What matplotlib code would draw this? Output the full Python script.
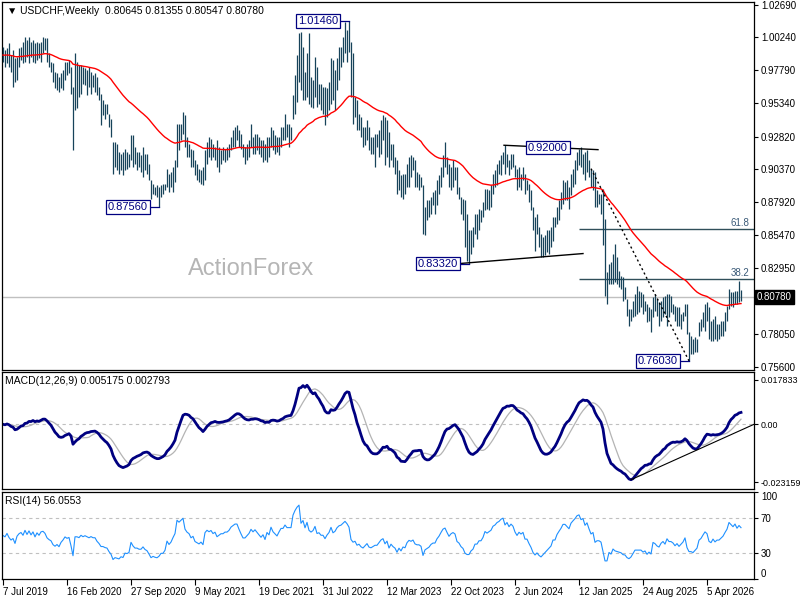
import numpy as np
import pandas as pd
import matplotlib.pyplot as plt
from matplotlib.transforms import blended_transform_factory

plt.rcParams['font.family'] = ['Liberation Sans', 'DejaVu Sans']

# weekly USDCHF bars
high = [
    0.9954, 0.9929, 0.9942, 0.9979, 0.9892, 0.9929, 0.9867, 0.9879, 0.9942, 0.9954,
    0.9992, 1.0029, 1.0004, 1.0029, 0.9992, 1.0004, 0.9979, 0.9992, 0.9979, 0.9992,
    1.0029, 1.0017, 1.0017, 0.9904, 0.9842, 0.9829, 0.9767, 0.9754, 0.9729, 0.9754,
    0.9779, 0.9842, 0.9842, 0.9854, 0.9804, 0.9654, 0.9904, 0.9842, 0.9817, 0.9817,
    0.9804, 0.9792, 0.9779, 0.9804, 0.9767, 0.9742, 0.9754, 0.9729, 0.9654, 0.9604,
    0.9554, 0.9529, 0.9529, 0.9454, 0.9417, 0.9242, 0.9242, 0.9229, 0.9167, 0.9154,
    0.9167, 0.9192, 0.9167, 0.9154, 0.9292, 0.9292, 0.9204, 0.9167, 0.9167, 0.9142,
    0.9204, 0.9154, 0.9154, 0.9079, 0.8954, 0.8929, 0.8904, 0.8917, 0.8904, 0.8917,
    0.8929, 0.8929, 0.9042, 0.9004, 0.9017, 0.9054, 0.9104, 0.9379, 0.9379, 0.9379,
    0.9467, 0.9442, 0.9279, 0.9229, 0.9192, 0.9179, 0.9104, 0.9079, 0.9042, 0.9029,
    0.9054, 0.9179, 0.9242, 0.9279, 0.9267, 0.9229, 0.9204, 0.9254, 0.9204, 0.9179,
    0.9204, 0.9192, 0.9204, 0.9229, 0.9279, 0.9329, 0.9354, 0.9367, 0.9329, 0.9304,
    0.9229, 0.9204, 0.9229, 0.9254, 0.9379, 0.9279, 0.9304, 0.9304, 0.9279, 0.9254,
    0.9254, 0.9229, 0.9279, 0.9279, 0.9354, 0.9329, 0.9292, 0.9279, 0.9279, 0.9354,
    0.9354, 0.9454, 0.9379, 0.9379, 0.9354, 0.9592, 0.9742, 0.9892, 1.0054, 1.0067,
    0.9954, 0.9767, 0.9904, 1.0054, 0.9729, 0.9704, 0.9879, 0.9804, 0.9679, 0.9679,
    0.9654, 0.9654, 0.9642, 0.9692, 0.9867, 0.9854, 0.9779, 0.9867, 0.9954, 0.9954,
    1.0029, 1.0142, 1.0079, 1.0146, 0.9992, 0.9904, 0.9579, 0.9554, 0.9454, 0.9429,
    0.9354, 0.9354, 0.9404, 0.9354, 0.9279, 0.9279, 0.9304, 0.9304, 0.9329, 0.9404,
    0.9442, 0.9429, 0.9404, 0.9317, 0.9229, 0.9229, 0.9129, 0.9104, 0.9029, 0.8992,
    0.9004, 0.9004, 0.9079, 0.9129, 0.9142, 0.9129, 0.9104, 0.9017, 0.9004, 0.8979,
    0.8917, 0.8754, 0.8804, 0.8804, 0.8829, 0.8867, 0.8879, 0.8954, 0.8992, 0.9054,
    0.9142, 0.9242, 0.9129, 0.9079, 0.9054, 0.9104, 0.9054, 0.9054, 0.8904, 0.8829,
    0.8817, 0.8804, 0.8704, 0.8579, 0.8579, 0.8604, 0.8704, 0.8704, 0.8742, 0.8729,
    0.8792, 0.8892, 0.8892, 0.8879, 0.8917, 0.9004, 0.9029, 0.9079, 0.9104, 0.9142,
    0.9167, 0.9217, 0.9154, 0.9104, 0.9154, 0.9154, 0.9067, 0.9042, 0.9054, 0.9004,
    0.9054, 0.9004, 0.8954, 0.8929, 0.8879, 0.8754, 0.8679, 0.8704, 0.8604, 0.8554,
    0.8529, 0.8542, 0.8579, 0.8579, 0.8604, 0.8679, 0.8679, 0.8754, 0.8804, 0.8867,
    0.8954, 0.8942, 0.8954, 0.8904, 0.9004, 0.9042, 0.9104, 0.9167, 0.9192, 0.9204,
    0.9154, 0.9167, 0.9179, 0.9104, 0.9042, 0.9029, 0.9017, 0.8879, 0.8854, 0.8854,
    0.8892, 0.8667, 0.8267, 0.8329, 0.8342, 0.8404, 0.8479, 0.8379, 0.8279, 0.8242,
    0.8229, 0.8154, 0.8067, 0.7992, 0.7992, 0.8054, 0.8104, 0.8167, 0.8129, 0.8117,
    0.8104, 0.8054, 0.8029, 0.8004, 0.7992, 0.8079, 0.8104, 0.8067, 0.8042, 0.8054,
    0.8079, 0.8092, 0.8104, 0.8104, 0.8092, 0.8029, 0.8017, 0.8004, 0.8004, 0.7954,
    0.7967, 0.8029, 0.8029, 0.7817, 0.7792, 0.7767, 0.7779, 0.7767, 0.7892, 0.7917,
    0.7967, 0.8029, 0.8042, 0.8004, 0.7904, 0.7917, 0.7942, 0.7879, 0.7879, 0.7904,
    0.7904, 0.7967, 0.8017, 0.8142, 0.8117, 0.8117, 0.8129, 0.8129, 0.8204, 0.81355,
]
low = [
    0.9842, 0.9804, 0.9829, 0.9804, 0.9767, 0.9654, 0.9692, 0.9704, 0.9804, 0.9854,
    0.9829, 0.9842, 0.9879, 0.9829, 0.9879, 0.9842, 0.9829, 0.9854, 0.9867, 0.9842,
    0.9904, 0.9929, 0.9842, 0.9804, 0.9767, 0.9692, 0.9642, 0.9629, 0.9617, 0.9642,
    0.9629, 0.9704, 0.9742, 0.9754, 0.9604, 0.9179, 0.9479, 0.9492, 0.9579, 0.9604,
    0.9679, 0.9667, 0.9592, 0.9654, 0.9604, 0.9654, 0.9617, 0.9592, 0.9554, 0.9367,
    0.9442, 0.9417, 0.9454, 0.9354, 0.9279, 0.9004, 0.9054, 0.9029, 0.9004, 0.9029,
    0.8992, 0.9029, 0.9042, 0.9054, 0.9104, 0.9054, 0.9079, 0.9029, 0.9054, 0.9017,
    0.8979, 0.9029, 0.9004, 0.8954, 0.8817, 0.8854, 0.8842, 0.8829, 0.8756, 0.8829,
    0.8854, 0.8879, 0.8904, 0.8867, 0.8904, 0.8867, 0.8942, 0.9054, 0.9179, 0.9254,
    0.9304, 0.9204, 0.9129, 0.9129, 0.9054, 0.9054, 0.8992, 0.8954, 0.8942, 0.8929,
    0.8917, 0.8954, 0.9079, 0.9129, 0.9104, 0.9129, 0.9104, 0.9054, 0.9017, 0.9079,
    0.9104, 0.9092, 0.9104, 0.9129, 0.9179, 0.9204, 0.9204, 0.9254, 0.9204, 0.9192,
    0.9129, 0.9079, 0.9104, 0.9129, 0.9204, 0.9154, 0.9154, 0.9179, 0.9154, 0.9129,
    0.9092, 0.9104, 0.9092, 0.9129, 0.9204, 0.9179, 0.9154, 0.9167, 0.9142, 0.9204,
    0.9254, 0.9254, 0.9279, 0.9204, 0.9254, 0.9417, 0.9454, 0.9542, 0.9692, 0.9629,
    0.9554, 0.9554, 0.9579, 0.9529, 0.9504, 0.9492, 0.9579, 0.9504, 0.9529, 0.9479,
    0.9454, 0.9367, 0.9429, 0.9479, 0.9529, 0.9554, 0.9479, 0.9629, 0.9704, 0.9804,
    0.9842, 0.9904, 0.9842, 0.9917, 0.9579, 0.9379, 0.9429, 0.9329, 0.9329, 0.9279,
    0.9204, 0.9217, 0.9254, 0.9179, 0.9154, 0.9154, 0.9054, 0.9204, 0.9129, 0.9154,
    0.9254, 0.9067, 0.9129, 0.9054, 0.9104, 0.9054, 0.9004, 0.8854, 0.8879, 0.8829,
    0.8817, 0.8854, 0.8904, 0.8904, 0.8979, 0.9029, 0.8904, 0.8904, 0.8879, 0.8904,
    0.8554, 0.8542, 0.8654, 0.8679, 0.8704, 0.8767, 0.8704, 0.8767, 0.8854, 0.8904,
    0.8979, 0.9054, 0.9004, 0.8904, 0.8879, 0.8904, 0.8954, 0.8854, 0.8817, 0.8704,
    0.8654, 0.8454, 0.8354, 0.8332, 0.8404, 0.8454, 0.8554, 0.8517, 0.8579, 0.8642,
    0.8679, 0.8729, 0.8742, 0.8729, 0.8754, 0.8854, 0.8904, 0.8917, 0.9004, 0.8992,
    0.9079, 0.9004, 0.9054, 0.8992, 0.9042, 0.9054, 0.8979, 0.8879, 0.8904, 0.8879,
    0.8954, 0.8854, 0.8879, 0.8792, 0.8729, 0.8579, 0.8429, 0.8554, 0.8454, 0.8379,
    0.8379, 0.8392, 0.8417, 0.8404, 0.8454, 0.8504, 0.8604, 0.8629, 0.8654, 0.8742,
    0.8779, 0.8804, 0.8804, 0.8742, 0.8842, 0.8904, 0.8929, 0.9029, 0.9067, 0.9054,
    0.9004, 0.8954, 0.9017, 0.8979, 0.8904, 0.8879, 0.8754, 0.8754, 0.8779, 0.8704,
    0.8467, 0.8092, 0.8029, 0.8179, 0.8179, 0.8179, 0.8192, 0.8179, 0.8154, 0.8142,
    0.8054, 0.8067, 0.7942, 0.7867, 0.7904, 0.7929, 0.7942, 0.7954, 0.7967, 0.8004,
    0.7954, 0.7979, 0.7892, 0.7904, 0.7817, 0.7929, 0.7979, 0.7942, 0.7867, 0.7904,
    0.7929, 0.7954, 0.7867, 0.7929, 0.7967, 0.7954, 0.7904, 0.7867, 0.7867, 0.7842,
    0.7904, 0.7942, 0.7804, 0.7603, 0.7654, 0.7654, 0.7667, 0.7667, 0.7792, 0.7829,
    0.7854, 0.7829, 0.7904, 0.7767, 0.7754, 0.7754, 0.7767, 0.7754, 0.7767, 0.7792,
    0.7792, 0.7829, 0.7904, 0.7992, 0.8017, 0.8004, 0.8029, 0.8029, 0.8042, 0.80547,
]
close = [
    0.9892, 0.9867, 0.9929, 0.9854, 0.9804, 0.9829, 0.9729, 0.9854, 0.9904, 0.9929,
    0.9879, 0.9979, 0.9904, 0.9979, 0.9904, 0.9967, 0.9867, 0.9954, 0.9904, 0.9979,
    0.9992, 0.9954, 0.9867, 0.9829, 0.9804, 0.9717, 0.9679, 0.9704, 0.9654, 0.9717,
    0.9754, 0.9804, 0.9779, 0.9792, 0.9629, 0.9304, 0.9729, 0.9729, 0.9704, 0.9767,
    0.9729, 0.9754, 0.9729, 0.9704, 0.9729, 0.9704, 0.9704, 0.9629, 0.9579, 0.9504,
    0.9504, 0.9479, 0.9467, 0.9379, 0.9304, 0.9104, 0.9129, 0.9104, 0.9079, 0.9104,
    0.9079, 0.9129, 0.9117, 0.9129, 0.9254, 0.9179, 0.9129, 0.9129, 0.9104, 0.9104,
    0.9129, 0.9079, 0.9054, 0.8979, 0.8879, 0.8892, 0.8867, 0.8854, 0.8867, 0.8892,
    0.8892, 0.8917, 0.9004, 0.8954, 0.8979, 0.9029, 0.9079, 0.9329, 0.9304, 0.9354,
    0.9404, 0.9254, 0.9204, 0.9179, 0.9104, 0.9129, 0.9029, 0.9004, 0.8979, 0.9004,
    0.8954, 0.9154, 0.9204, 0.9179, 0.9204, 0.9154, 0.9179, 0.9104, 0.9129, 0.9154,
    0.9154, 0.9179, 0.9179, 0.9204, 0.9254, 0.9279, 0.9304, 0.9304, 0.9254, 0.9204,
    0.9154, 0.9154, 0.9179, 0.9204, 0.9254, 0.9229, 0.9254, 0.9229, 0.9204, 0.9179,
    0.9204, 0.9154, 0.9229, 0.9204, 0.9304, 0.9254, 0.9229, 0.9204, 0.9254, 0.9304,
    0.9304, 0.9354, 0.9329, 0.9329, 0.9329, 0.9554, 0.9704, 0.9854, 0.9979, 0.9704,
    0.9804, 0.9654, 0.9854, 0.9654, 0.9604, 0.9654, 0.9804, 0.9604, 0.9629, 0.9554,
    0.9554, 0.9454, 0.9554, 0.9629, 0.9804, 0.9654, 0.9704, 0.9829, 0.9904, 0.9929,
    1.0004, 1.0079, 1.0029, 0.9954, 0.9604, 0.9504, 0.9529, 0.9379, 0.9404, 0.9304,
    0.9254, 0.9304, 0.9354, 0.9229, 0.9204, 0.9229, 0.9254, 0.9254, 0.9304, 0.9354,
    0.9379, 0.9254, 0.9304, 0.9104, 0.9179, 0.9104, 0.9054, 0.8904, 0.8979, 0.8879,
    0.8954, 0.8929, 0.9029, 0.9079, 0.9054, 0.9079, 0.8979, 0.8954, 0.8954, 0.8917,
    0.8604, 0.8704, 0.8729, 0.8754, 0.8804, 0.8829, 0.8829, 0.8904, 0.8954, 0.9029,
    0.9104, 0.9129, 0.9054, 0.8979, 0.9029, 0.9054, 0.9029, 0.8879, 0.8842, 0.8754,
    0.8704, 0.8554, 0.8504, 0.8504, 0.8554, 0.8579, 0.8654, 0.8654, 0.8704, 0.8704,
    0.8754, 0.8854, 0.8829, 0.8854, 0.8879, 0.8954, 0.8979, 0.9029, 0.9054, 0.9104,
    0.9129, 0.9054, 0.9104, 0.9054, 0.9104, 0.9079, 0.9004, 0.8954, 0.9004, 0.8979,
    0.9004, 0.8904, 0.8904, 0.8829, 0.8754, 0.8629, 0.8554, 0.8579, 0.8504, 0.8454,
    0.8479, 0.8504, 0.8529, 0.8554, 0.8579, 0.8654, 0.8654, 0.8729, 0.8779, 0.8829,
    0.8904, 0.8904, 0.8879, 0.8854, 0.8954, 0.9004, 0.9054, 0.9129, 0.9154, 0.9104,
    0.9129, 0.9054, 0.9104, 0.9029, 0.8954, 0.8979, 0.8804, 0.8829, 0.8829, 0.8804,
    0.8579, 0.8154, 0.8154, 0.8304, 0.8229, 0.8329, 0.8254, 0.8229, 0.8204, 0.8179,
    0.8104, 0.8092, 0.7979, 0.7929, 0.7954, 0.8004, 0.8054, 0.8054, 0.8054, 0.8054,
    0.8004, 0.8017, 0.7929, 0.7954, 0.7904, 0.8054, 0.8029, 0.7979, 0.7954, 0.8004,
    0.8029, 0.7979, 0.8054, 0.8004, 0.8004, 0.7979, 0.7929, 0.7954, 0.7904, 0.7929,
    0.7954, 0.8004, 0.7829, 0.7729, 0.7729, 0.7704, 0.7729, 0.7754, 0.7854, 0.7879,
    0.7929, 0.7979, 0.7954, 0.7829, 0.7804, 0.7854, 0.7804, 0.7829, 0.7829, 0.7854,
    0.7879, 0.7929, 0.7979, 0.8104, 0.8079, 0.8054, 0.8104, 0.8054, 0.8104, 0.8078,
]

date_labels = ["7 Jul 2019", "16 Feb 2020", "27 Sep 2020", "9 May 2021", "19 Dec 2021",
               "31 Jul 2022", "12 Mar 2023", "22 Oct 2023", "2 Jun 2024", "12 Jan 2025",
               "24 Aug 2025", "5 Apr 2026"]
weeks_per_label = 32

price_ticks = [1.0269, 1.0024, 0.9779, 0.9534, 0.9282, 0.9037, 0.8792, 0.8547,
               0.8295, 0.8050, 0.7805, 0.7560]
last_price = 0.8078
swing_high = 0.9200
swing_low = 0.7603
fib_levels = [0.618, 0.382]
macd_ticks = [0.017833, 0.0, -0.023159]
macd_tick_labels = ["0.017833", "0.00", "-0.023159"]

bar_c = '#17435a'
navy = '#000080'

hi = np.array(high)
lo = np.array(low)
cl = np.array(close)
n = len(cl)
x = np.arange(n)


def ema(v, p):
    a = 2.0 / (p + 1)
    out = np.empty(len(v))
    out[0] = v[0]
    for i in range(1, len(v)):
        out[i] = a * v[i] + (1 - a) * out[i - 1]
    return out


def wilder_rsi(v, p=14):
    d = np.diff(v, prepend=v[0])
    seed = np.abs(d[1:p + 1]).mean() / 2
    ag, al = seed, seed
    out = np.empty(len(v))
    for i in range(len(v)):
        ag = (ag * (p - 1) + max(d[i], 0)) / p
        al = (al * (p - 1) + max(-d[i], 0)) / p
        out[i] = 100 - 100 / (1 + ag / al) if al > 0 else 100
    return out


ma = ema(cl, 55)
macd = ema(cl, 12) - ema(cl, 26)
signal = pd.Series(macd).rolling(9, min_periods=1).mean().values
rsi = wilder_rsi(cl)

fig = plt.figure(figsize=(8, 6), dpi=100)


def px_axes(l, t, r, b):
    return fig.add_axes([l / 800, 1 - b / 600, (r - l) / 800, (b - t) / 600])


ax1 = px_axes(2, 2, 754, 370)
ax2 = px_axes(2, 372, 754, 489)
ax3 = px_axes(2, 492, 754, 579)

xl = (-0.5, 375.5)
for ax in (ax1, ax2, ax3):
    ax.set_xlim(*xl)
    ax.yaxis.tick_right()
    ax.tick_params(axis='y', direction='out', length=3, labelsize=7, pad=2, width=0.8)
    for s in ax.spines.values():
        s.set_linewidth(0.9)
        s.set_color('black')
ax1.set_xticks([])
ax2.set_xticks([])

# ---- price panel
ax1.set_ylim(0.7535, 1.0289)
ax1.axhline(last_price, color='#c0c0c0', lw=1, zorder=1)
ax1.vlines(x, lo, hi, color=bar_c, lw=0.9, zorder=3)
ax1.plot(x, ma, color='#ff0000', lw=1, zorder=4)
ax1.set_yticks(price_ticks)
# the tick next to the last price sits under the price box
ax1.set_yticklabels(['' if abs(v - last_price) < 0.004 else '%.5f' % v for v in price_ticks])

tr = blended_transform_factory(ax1.transAxes, ax1.transData)
ax1.text(1.004, last_price, '%.5f' % last_price, transform=tr, fontsize=7, color='white',
         ha='left', va='center', zorder=10, clip_on=False,
         bbox=dict(boxstyle='square,pad=0.2', fc='black', ec='black'))

# fibonacci retracements
for r in fib_levels:
    lvl = swing_low + r * (swing_high - swing_low)
    ax1.hlines(lvl, 288, xl[1], color='#2f4f5a', lw=1, zorder=2)
    ax1.text(373, lvl + 0.0008, '%.1f' % (r * 100), fontsize=7, color='#3a5a78',
             ha='right', va='bottom')

# trend lines
i_top = int(np.argmax(hi[240:260])) + 240
ax1.plot([i_top - 0.5, 297.5], [hi[i_top], hi[i_top] - 0.0033], color='black', lw=1, zorder=5)
i_l1 = int(np.argmin(lo[220:240])) + 220
i_l2 = int(np.argmin(lo[260:280])) + 260
slope = (lo[i_l2] - lo[i_l1]) / (i_l2 - i_l1)
ax1.plot([i_l1 - 4.5, 290], [lo[i_l1], lo[i_l1] + slope * (290 - i_l1)], color='black', lw=1, zorder=5)
i_min = int(np.argmin(lo))
ax1.plot([294, i_min], [hi[294], lo[i_min]], color='black', lw=1, ls=(0, (1.5, 2)), zorder=5)

box = dict(boxstyle='square,pad=0.15', fc='white', ec=navy, lw=0.9)


def pivot(i, v, txt):
    ax1.plot([i - 5, i], [v, v], color=navy, lw=0.9, zorder=6)
    ax1.text(i - 5.5, v, txt, ha='right', va='center', fontsize=8, color=navy, bbox=box, zorder=7)


i_a = int(np.argmin(lo[60:100])) + 60
pivot(i_a, lo[i_a], '0.87560')
i_b = int(np.argmax(hi))
pivot(i_b, hi[i_b], '1.01460')
pivot(i_l1, lo[i_l1], '0.83320')
pivot(i_min, lo[i_min], '0.76030')
ax1.text(272.5, swing_high, '0.92000', ha='center', va='center', fontsize=8, color=navy,
         bbox=box, zorder=7)

ax1.text(0.006, 0.975, u'\u25bc USDCHF,Weekly  0.80645 0.81355 0.80547 0.80780',
         transform=ax1.transAxes, fontsize=7.5, va='center', ha='left',
         family=['Liberation Sans', 'DejaVu Sans'])
ax1.text(0.247, 0.257, 'ActionForex', transform=ax1.transAxes, fontsize=17,
         color='#b5b5b5', ha='left', va='baseline')

# ---- MACD panel
ax2.set_ylim(-0.02584, 0.02089)
ax2.axhline(0, color='#c0c0c0', lw=0.8, ls=(0, (3, 3)))
ax2.plot(x, signal, color='#b4b4b4', lw=0.9)
ax2.plot(x, macd, color=navy, lw=2)
j = int(np.argmin(macd))
ax2.plot([j, xl[1]], [macd[j], 0.0], color='black', lw=0.8)
ax2.set_yticks(macd_ticks)
ax2.set_yticklabels(macd_tick_labels)
ax2.tick_params(axis='y', labelsize=6.4, pad=1.5)
ax2.text(0.004, 0.92, 'MACD(12,26,9) 0.005175 0.002793', transform=ax2.transAxes,
         fontsize=7.5, va='center', ha='left')

# ---- RSI panel
ax3.set_ylim(0, 100)
for lv in (70, 30):
    ax3.axhline(lv, color='#c0c0c0', lw=0.8, ls=(0, (3, 3)))
ax3.plot(x, rsi, color='#1e90ff', lw=0.8)
ax3.set_yticks([100, 70, 30, 0])
ax3.set_yticklabels(['100', '70', '30', '0'])
tl = ax3.get_yticklabels()
tl[0].set_verticalalignment('top')
tl[3].set_verticalalignment('bottom')
ax3.text(0.004, 0.9, 'RSI(14) 56.0553', transform=ax3.transAxes,
         fontsize=7.5, va='center', ha='left')

ax3.set_xticks(np.arange(len(date_labels)) * weeks_per_label)
ax3.set_xticklabels(date_labels)
ax3.tick_params(axis='x', direction='out', length=4, labelsize=7, pad=2, width=0.8)
for t in ax3.get_xticklabels():
    t.set_horizontalalignment('left')

fig.savefig('out.png', dpi=100)
